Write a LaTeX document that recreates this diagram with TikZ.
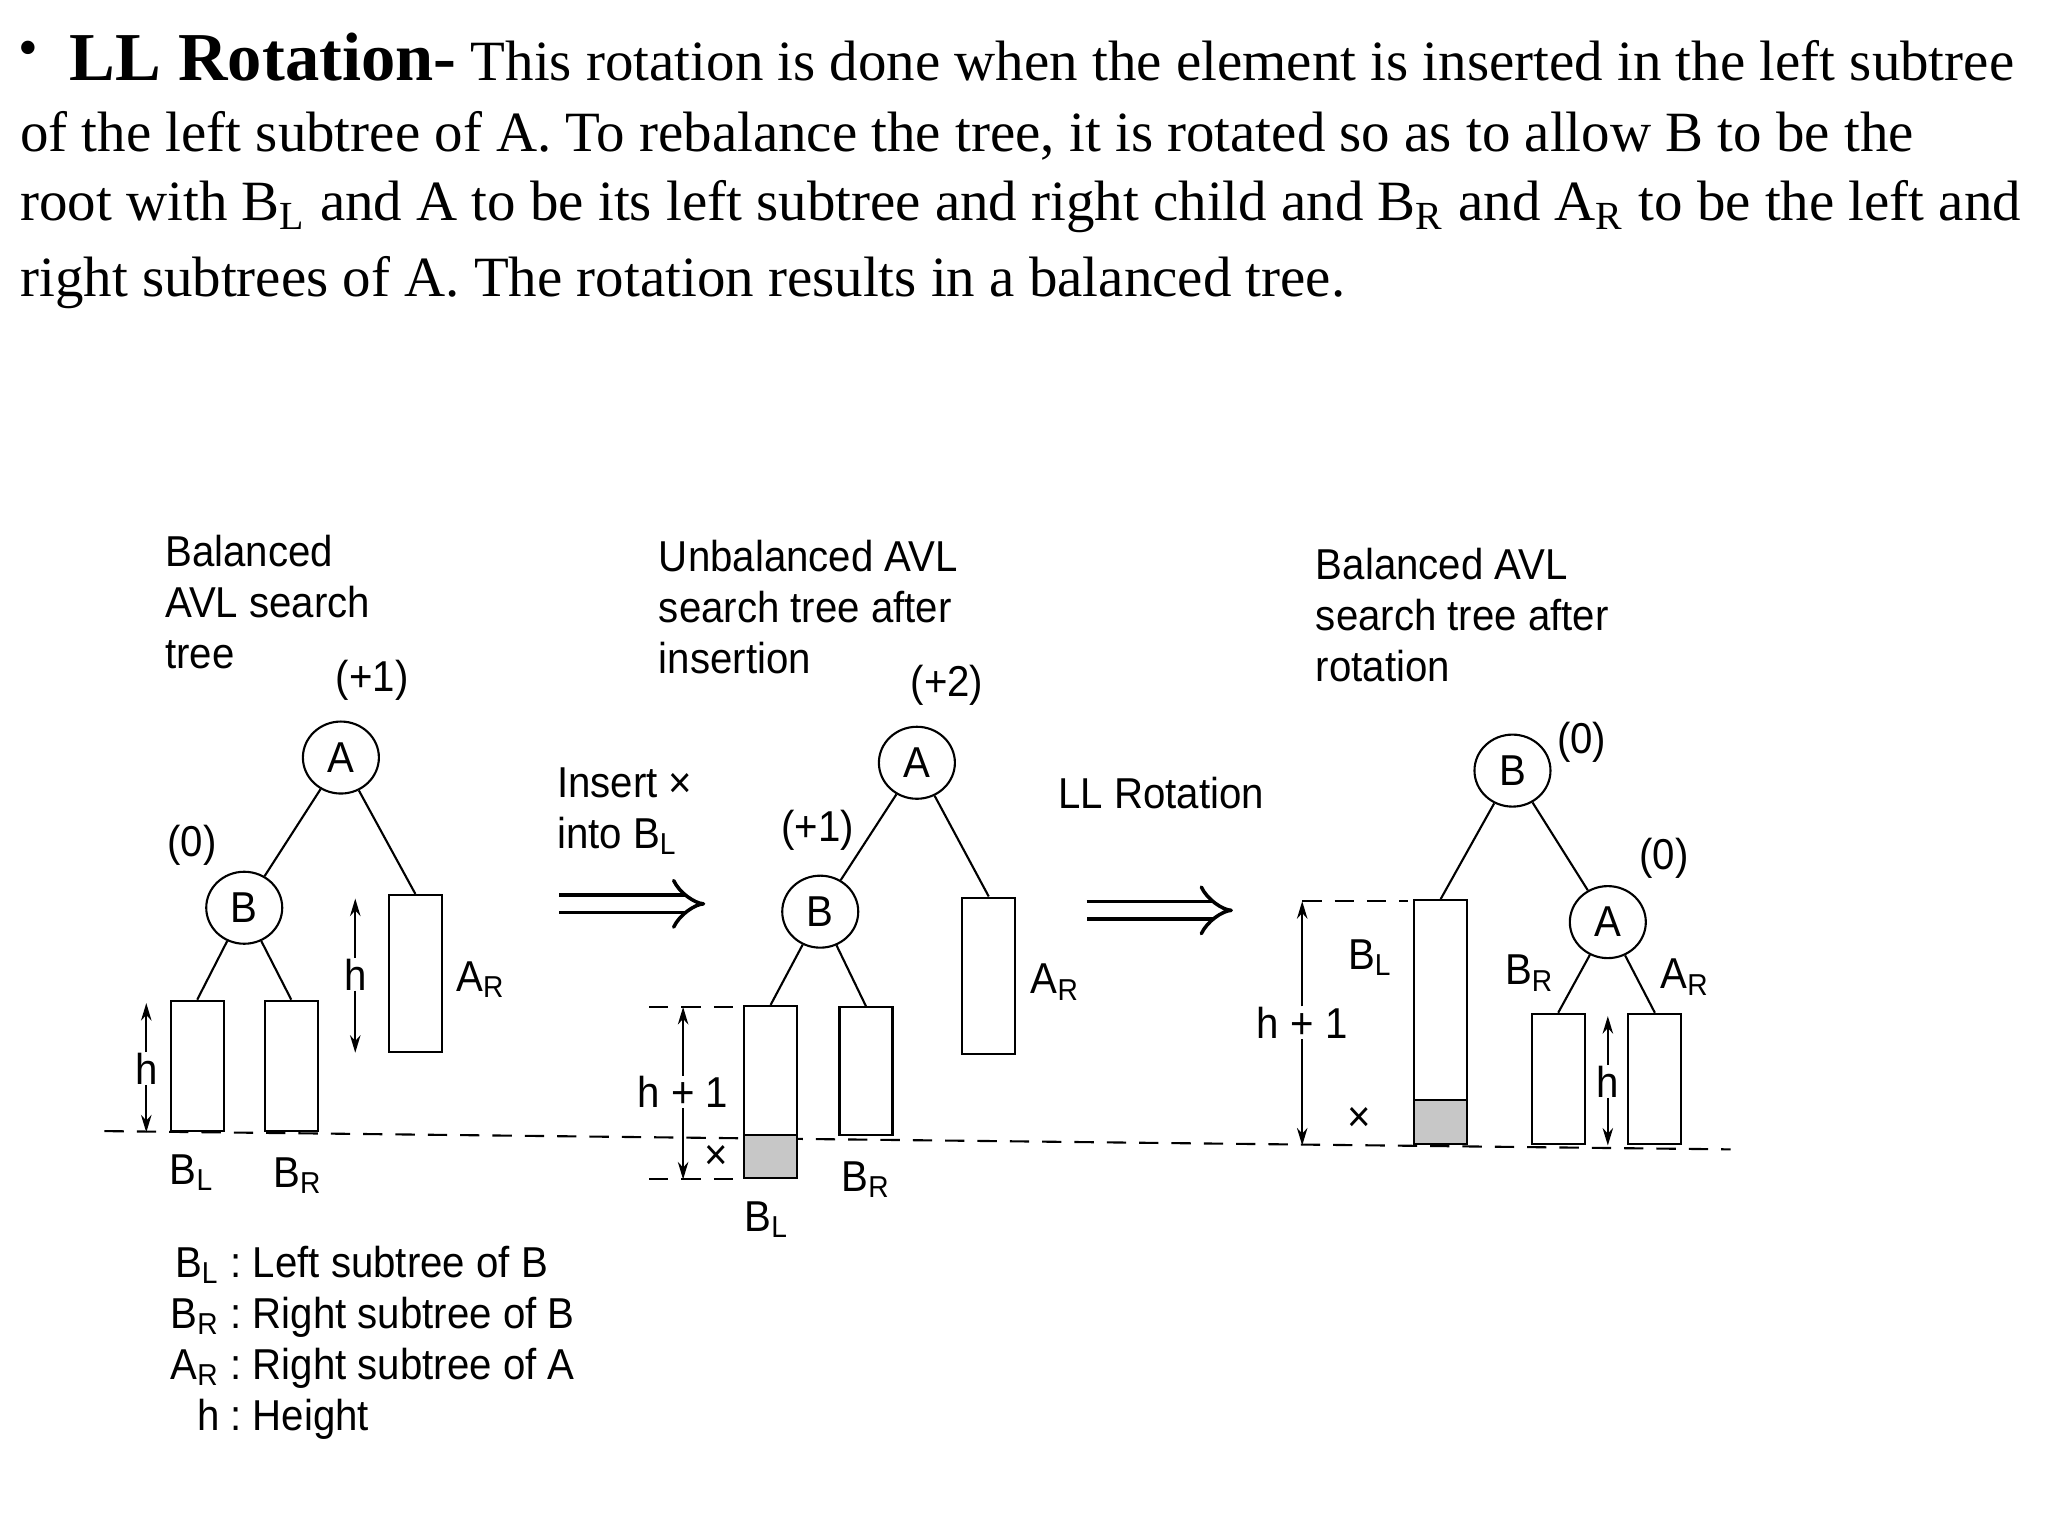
\documentclass[tikz,border=0pt]{standalone}
\usepackage{fontspec}
\setmainfont{Liberation Serif}
\newfontfamily\diagfont[FakeStretch=0.93]{Liberation Sans}
\usetikzlibrary{shapes.geometric,arrows.meta,positioning}

\tikzset{
  tnode/.style={draw, ellipse, line width=0.6pt, minimum width=0.76cm, minimum height=0.72cm, inner sep=0pt},
  subtree/.style={draw, line width=0.6pt, anchor=south, minimum width=0.53cm, inner sep=0pt, minimum height=#1*0.01306cm},
  xpart/.style={subtree=#1, fill=black!22},
  lbl/.style={inner sep=0pt},
  para/.style={inner sep=0pt, anchor=base west, font=\rmfamily\fontsize{16.2}{19}\selectfont},
  hgt/.style={-{Stealth[length=5pt,width=3pt]}, line width=0.5pt},
  ground/.style={dash pattern=on 5.5pt off 3.7pt, line width=0.6pt},
  rot/.style={double, double distance=4pt, line width=1pt, -{Implies}},
}

\begin{document}
\begin{tikzpicture}[x=0.01306cm, y=-0.01306cm, font=\diagfont\fontsize{12.3}{14.5}\selectfont]
\useasboundingbox (0,0) rectangle (1568,1176);

% text on top
\node[lbl, font=\rmfamily\fontsize{16}{18}\selectfont] (bul) at (22,41) {•};
\node[para, font=\rmfamily\bfseries\fontsize{19.5}{22}\selectfont] (ttl) at (53,62) {LL Rotation-};
\node[para] (t1) at (360,62) {This rotation is done when the element is inserted in the left subtree};
\node[para] (t2) at (15,116) {of the left subtree of A. To rebalance the tree, it is rotated so as to allow B to be the};
\node[para] (t3) at (15,169) {root with B\textsubscript{L} and A to be its left subtree and right child and B\textsubscript{R} and A\textsubscript{R} to be the left and};
\node[para] (t4) at (15,227) {right subtrees of A. The rotation results in a balanced tree.};

% common ground line
\coordinate (g0) at (80,866);
\coordinate (g1) at (1325,880);
\draw[ground] (g0) -- (g1);

% balanced tree
\node[lbl, anchor=north west, align=left] (cap1) at (126,409) {Balanced\\AVL search\\tree};
\node[tnode] (A1) at (261,580) {A};
\node[lbl] (fA1) at (285,521) {(+1)};
\node[tnode] (B1) at (187,695) {B};
\node[lbl] (fB1) at (147,647) {(0)};
\node[subtree=100] (bl1) at (151,867) {};
\node[subtree=100] (br1) at (223,867) {};
\node[subtree=120] (ar1) at (318,806) {};
\path[line width=0.6pt]
  (A1) edge (B1)
       edge (ar1.north)
  (B1) edge (bl1.north)
       edge (br1.north);
\node[lbl] (blt1) at (147,898) {B\textsubscript{L}};
\node[lbl] (brt1) at (228,900) {B\textsubscript{R}};
\node[lbl] (art1) at (368,750) {A\textsubscript{R}};
\node[lbl] (h1) at (112,818) {h};
\coordinate (h1t) at (112,768);
\coordinate (h1b) at (112,867);
\draw[hgt] (h1) -- (h1t);
\draw[hgt] (h1) -- (h1b);
\node[lbl] (h2) at (272,746) {h};
\coordinate (h2t) at (272,688);
\coordinate (h2b) at (272,806);
\draw[hgt] (h2) -- (h2t);
\draw[hgt] (h2) -- (h2b);

% insertion
\node[lbl, anchor=west, align=left] (ins) at (426,621) {Insert ×\\into B\textsubscript{L}};
\coordinate (ins0) at (428,692);
\coordinate (ins1) at (540,692);
\draw[rot] (ins0) -- (ins1);

% unbalanced tree
\node[lbl, anchor=north west, align=left] (cap2) at (504,413) {Unbalanced AVL\\search tree after\\insertion};
\node[tnode] (A2) at (702,584) {A};
\node[lbl] (fA2) at (725,525) {(+2)};
\node[tnode] (B2) at (628,698) {B};
\node[lbl] (fB2) at (626,636) {(+1)};
\node[xpart=33] (x2) at (590,903) {};
\node[subtree=132] (bl2) at (590,903) {};
\node[subtree=98] (br2) at (663,870) {};
\node[subtree=120] (ar2) at (757,808) {};
\path[line width=0.6pt]
  (A2) edge (B2)
       edge (ar2.north)
  (B2) edge (bl2.north)
       edge (br2.north);
\node[lbl] (blt2) at (587,934) {B\textsubscript{L}};
\node[lbl] (brt2) at (663,903) {B\textsubscript{R}};
\node[lbl] (art2) at (808,752) {A\textsubscript{R}};
\node[lbl] (hh2) at (523,836) {h + 1};
\node[lbl] (xx2) at (548,886) {×};
\coordinate (hh2t) at (523,771);
\coordinate (hh2b) at (523,903);
\draw[hgt] (hh2) -- (hh2t);
\draw[hgt] (hh2) -- (hh2b);
\draw[ground] (497,771) -- (563,771);
\draw[ground] (497,903) -- (563,903);

% rotation
\node[lbl] (llr) at (889,607) {LL Rotation};
\coordinate (rot0) at (832,697);
\coordinate (rot1) at (944,697);
\draw[rot] (rot0) -- (rot1);

% balanced tree after rotation
\node[lbl, anchor=north west, align=left] (cap3) at (1007,419) {Balanced AVL\\search tree after\\rotation};
\node[tnode] (B3) at (1158,590) {B};
\node[lbl] (fB3) at (1211,568) {(0)};
\node[tnode] (A3) at (1231,706) {A};
\node[lbl] (fA3) at (1274,657) {(0)};
\node[xpart=34] (x3) at (1103,877) {};
\node[subtree=187] (bl3) at (1103,877) {};
\node[subtree=100] (br3) at (1193,877) {};
\node[subtree=100] (ar3) at (1267,877) {};
\path[line width=0.6pt]
  (B3) edge (bl3.north)
       edge (A3)
  (A3) edge (br3.north)
       edge (ar3.north);
\node[lbl] (blt3) at (1049,733) {B\textsubscript{L}};
\node[lbl] (brt3) at (1171,745) {B\textsubscript{R}};
\node[lbl] (art3) at (1290,748) {A\textsubscript{R}};
\node[lbl] (hh3) at (997,783) {h + 1};
\node[lbl] (xx3) at (1041,857) {×};
\coordinate (hh3t) at (997,690);
\coordinate (hh3b) at (997,877);
\draw[hgt] (hh3) -- (hh3t);
\draw[hgt] (hh3) -- (hh3b);
\draw[ground] (997,690) -- (1078,690);
\node[lbl] (h3) at (1231,828) {h};
\coordinate (h3t) at (1231,778);
\coordinate (h3b) at (1231,877);
\draw[hgt] (h3) -- (h3t);
\draw[hgt] (h3) -- (h3b);

% key
\node[lbl, anchor=north west] (key) at (130,950) {\begin{tabular}{@{}r@{\ :\ }l@{}}
B\textsubscript{L} & Left subtree of B\\
B\textsubscript{R} & Right subtree of B\\
A\textsubscript{R} & Right subtree of A\\
h & Height
\end{tabular}};
\end{tikzpicture}
\end{document}
